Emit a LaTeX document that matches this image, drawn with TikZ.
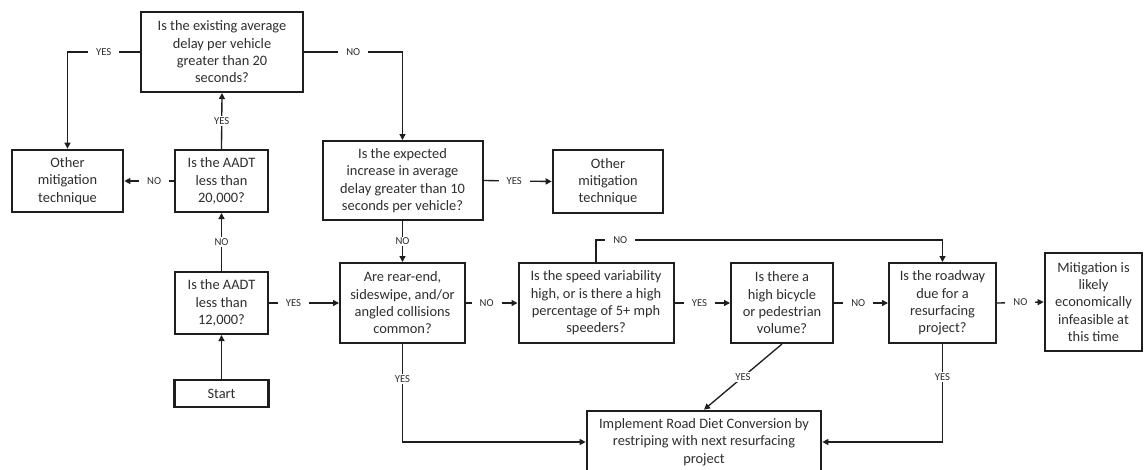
\documentclass[tikz,border=0pt]{standalone}
\usepackage{fontspec}
\setmainfont{Carlito}
\usetikzlibrary{arrows.meta}
\definecolor{ink}{HTML}{1E1E1E}
\definecolor{txt}{HTML}{2E2E2E}
\tikzset{
  box/.style={draw=ink, line width=1.5pt, rectangle, align=center, inner sep=0pt,
    font=\fontsize{10.8pt}{13pt}\selectfont, text=txt},
  qbox/.style={box},
  tbox/.style={box, line width=2pt},
  lbl/.style={fill=white, font=\fontsize{8pt}{9pt}\selectfont, text=txt, inner xsep=6pt, inner ysep=1pt},
  conn/.style={draw=ink, line width=1pt},
  arr/.style={conn, -{Triangle[length=4.5pt,width=4.5pt]}}
}
\begin{document}
\begin{tikzpicture}[x=0.75pt,y=-0.75pt]
\useasboundingbox (0,0) rectangle (1145,469);
\clip (0,0) rectangle (1145,469);
\fill[white] (0,0) rectangle (1145,469);

% question boxes (sizes in px * 0.75pt)
\node[qbox, minimum width=121.5pt, minimum height=60pt] (q1) at (222,52)
  {Is the existing average\\delay per vehicle\\greater than 20\\seconds?};
\node[tbox, minimum width=83.25pt, minimum height=46.5pt] (om1) at (67.5,181)
  {Other\\mitigation\\technique};
\node[qbox, minimum width=69.75pt, minimum height=46.5pt] (q20) at (221.5,181)
  {Is the AADT\\less than\\20,000?};
\node[qbox, minimum width=69.75pt, minimum height=46.5pt] (q12) at (221.5,303)
  {Is the AADT\\less than\\12,000?};
\node[tbox, minimum width=70.5pt, minimum height=20.25pt] (start) at (221.5,393.5)
  {Start};
\node[qbox, minimum width=120pt, minimum height=59.25pt] (q2) at (402.5,180.5)
  {Is the expected\\increase in average\\delay greater than 10\\seconds per vehicle?};
\node[tbox, minimum width=82.5pt, minimum height=47.25pt] (om2) at (608,181.5)
  {Other\\mitigation\\technique};
\node[qbox, minimum width=93.75pt, minimum height=60pt] (q3) at (402.5,303)
  {Are rear-end,\\sideswipe, and/or\\angled collisions\\common?};
\node[qbox, minimum width=116.25pt, minimum height=60pt] (q4) at (596,303)
  {Is the speed variability\\high, or is there a high\\percentage of 5+ mph\\speeders?};
\node[qbox, minimum width=76.5pt, minimum height=60pt] (q5) at (782,303)
  {Is there a\\high bicycle\\or pedestrian\\volume?};
\node[qbox, minimum width=80.25pt, minimum height=60pt] (q6) at (942.5,303)
  {Is the roadway\\due for a\\resurfacing\\project?};
\node[tbox, minimum width=72.75pt, minimum height=73.5pt] (mit) at (1093.5,302)
  {Mitigation is\\likely\\economically\\infeasible at\\this time};
\node[tbox, minimum width=175.5pt, minimum height=46.5pt] (impl) at (704,442)
  {Implement Road Diet Conversion by\\restriping with next resurfacing\\project};

\coordinate (c1) at (596,240);
\coordinate (c2) at (942.5,240);

% connectors
\draw[arr] (q1.west) -| node[lbl, pos=0.25] {YES} (om1.north);
\draw[arr] (q1.east) -| node[lbl, pos=0.25] {NO} (q2.north);
\draw[arr] (q20.north) -- node[lbl] {YES} (q1.south);
\draw[arr] (q20.west) -- node[lbl, pos=0.4] {NO} (om1.east);
\draw[arr] (q12.north) -- node[lbl] {NO} (q20.south);
\draw[arr] (start.north) -- (q12.south);
\draw[arr] (q12.east) -- node[lbl, pos=0.35] {YES} (q3.west);
\draw[arr] (q2.south) -- node[lbl] {NO} (q3.north);
\draw[arr] (q2.east) -- node[lbl, pos=0.45] {YES} (om2.west);
\draw[arr] (q3.east) -- node[lbl, pos=0.4] {NO} (q4.west);
\draw[arr] (q4.north) -- (c1) -- node[lbl, pos=0.07] {NO} (c2) -- (q6.north);
\draw[arr] (q4.east) -- node[lbl, pos=0.45] {YES} (q5.west);
\draw[arr] (q5.east) -- node[lbl, pos=0.45] {NO} (q6.west);
\draw[arr] (q6.east) -- node[lbl] {NO} (mit.west);
\draw[arr] (q5.south) -- node[lbl] {YES} (impl.north);
\draw[arr] (q6.south) |- node[lbl, pos=0.17] {YES} (impl.east);
\draw[arr] (q3.south) |- node[lbl, pos=0.177] {YES} (impl.west);
\end{tikzpicture}
\end{document}
